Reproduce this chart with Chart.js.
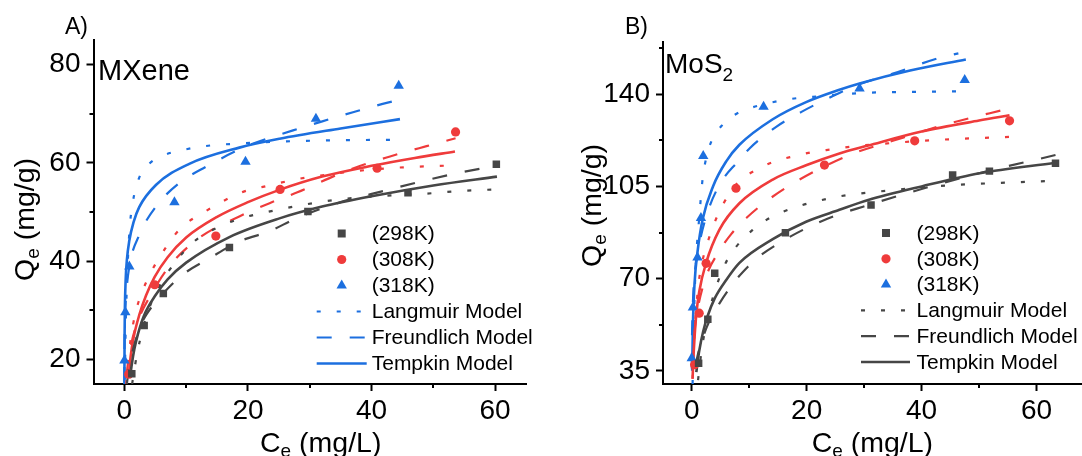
<!DOCTYPE html>
<html>
<head>
<meta charset="utf-8">
<script src="https://cdn.jsdelivr.net/npm/chart.js@4.4.1/dist/chart.umd.min.js"></script>
<style>
  body { margin: 0; width: 1082px; height: 456px; overflow: hidden; background: #fff; position: relative; }
  canvas { position: absolute; top: 0; }
  #chartA { left: 0; }
  #chartB { left: 540px; }
</style>
</head>
<body>
<canvas id="chartA" width="540" height="456"></canvas>
<canvas id="chartB" width="560" height="456"></canvas>
<script>
// ---- labels / ticks ----
const tempLabels = ["(298K)", "(308K)", "(318K)"];
const modelLabels = ["Langmuir Model", "Freundlich Model", "Tempkin Model"];
const xTickLabels = [0, 20, 40, 60];
const mxXTicks = [0, 10, 20, 30, 40, 50, 60];
const moXTicks = [0, 10, 20, 30, 40, 50, 60, 70];
const mxYTicks = [20, 30, 40, 50, 60, 70, 80];
const mxYTickLabels = [20, 40, 60, 80];
const moYTicks = [35, 52.5, 70, 87.5, 105, 122.5, 140, 157.5];
const moYTickLabels = [35, 70, 105, 140];

// ---- A) MXene : measured points [Ce, Qe] ----
const mx298 = [[1.2,17.1],[3.2,26.9],[6.3,33.4],[17.0,42.8],[29.7,50.1],[45.9,53.9],[60.2,59.7]];
const mx308 = [[0.7,17.0],[4.9,35.2],[14.8,45.1],[25.2,54.6],[40.9,58.9],[53.6,66.3]];
const mx318 = [[0.0,19.8],[0.15,29.6],[0.8,38.9],[8.1,52.0],[19.6,60.2],[31.0,69.0],[44.4,75.7]];

// model curves
const mx298Lang = [[1.25,15],[1.5,17],[2,20.8],[3,26.3],[4.1,30.7],[5.5,34.5],[7.3,38.2],[11,43.7],[15,46.8],[19.1,48.8],[22.4,49.8],[28.7,51.4],[35,52.6],[42,53.3],[48.4,53.7],[54.6,54.3],[60.2,54.6]];
const mx298Freu = [[0.4,15],[0.7,18],[1,20],[1.5,22.5],[2.5,26.5],[3.5,29],[5.7,32.6],[9.4,37.2],[13.8,40.6],[18.6,44],[23.5,46.1],[27.8,48.7],[35,52],[42,54.3],[48.3,56.3],[53.5,57.8],[60.2,59.4]];
const mx298Temp = [[0.9,16.2],[1.2,19],[1.6,22],[2.2,25.2],[3.2,29],[5,33],[7,36.3],[10,39.7],[17,44.9],[25.1,48.7],[32,51.1],[40,53.2],[50,55.4],[60.3,57.2]];

const mx308Lang = [[0.3,15],[0.6,19.5],[1,24],[1.8,29.5],[2.9,33.8],[4,37],[5.7,40.8],[8.9,46.4],[13.2,50.2],[19.2,54.1],[22.4,55.1],[28,56.7],[31,57.3],[38,58.4],[43.8,59],[53.6,59.5]];
const mx308Freu = [[0.3,16.3],[0.6,19.5],[1,22.5],[2,27.2],[4.5,33.6],[7.3,39],[12.2,44.8],[18.6,49.1],[23.5,51.8],[28,54],[36.2,58.5],[43,61.3],[48.9,63.4],[53.6,65]];
const mx308Temp = [[0.7,16.5],[1,20.5],[1.5,24.5],[2.4,29],[3.5,33],[4.9,36.8],[7,40.8],[10,44.8],[15,49],[20,52],[25.1,54.5],[32,57.2],[40,59.4],[47,61],[53.5,62.3]];

const mx318Lang = [[0.05,12],[0.1,18],[0.2,26],[0.4,35],[0.8,45.8],[1.3,51.5],[2.4,57],[4,59.8],[6.5,61.6],[9.4,62.6],[13,63.4],[18,63.9],[27,64.4],[35,64.6],[44.4,64.7]];
const mx318Freu = [[0.002,15.4],[0.01,19.8],[0.03,23.5],[0.1,28.2],[0.3,33.3],[0.8,38.9],[2.4,45.3],[5.1,51.1],[8.9,55.9],[13.2,59.2],[20,63.5],[27.3,66.6],[31.9,68.4],[37,70.3],[41.8,72],[44.4,72.8]];
const mx318Temp = [[0.005,14],[0.01,18],[0.03,24.5],[0.08,30.5],[0.2,36],[0.4,40.2],[0.8,44.2],[1.5,48],[2.4,51],[5.1,55.5],[10.5,59.8],[18.6,63.1],[25.1,64.9],[35,67],[44.6,68.9]];

// ---- B) MoS2 : measured points ----
const mo298 = [[1.2,37.9],[2.8,54.6],[4.0,72.0],[16.3,87.4],[31.2,97.9],[45.4,109.3],[51.8,110.8],[63.3,113.8]];
const mo308 = [[0.5,37.3],[1.3,56.9],[2.5,75.8],[7.7,104.3],[23.1,113.1],[38.8,122.3],[55.3,129.9]];
const mo318 = [[0.0,39.8],[0.2,59.0],[1.0,78.0],[1.6,93.0],[2.0,116.5],[12.5,135.2],[29.2,142.2],[47.5,145.4]];

const mo298Lang = [[1.1,31.5],[1.4,37.3],[1.9,45.3],[2.7,54.4],[3.7,63],[5.7,75],[7.7,82],[10.6,88.5],[13,92.3],[15.7,95.2],[19.1,97.8],[22.2,99.6],[25.4,101.1],[28.6,102.1],[35,103.6],[44.9,105.4],[53,106.3],[61.8,107]];
const mo298Freu = [[0.7,37],[1,40.5],[2,48],[3,53.5],[4.8,60.5],[7.7,69.5],[10,75],[11.2,77.5],[15,83.2],[19.9,89.1],[24.9,93.8],[29.8,97.3],[40,104],[50,110],[63.3,116.9]];
const mo298Temp = [[0.8,34.5],[1,38],[1.3,42.5],[2,50],[2.8,56],[4,62.5],[6,69.5],[8.3,76],[14.1,85],[19.9,91.6],[25.7,96.1],[30.7,99.8],[40,105],[50.1,110],[63.3,114]];

const mo308Lang = [[0.15,32],[0.2,34.5],[0.5,50],[0.8,59.4],[1.3,70],[2,78],[3.1,86],[4.5,94],[6.6,102.4],[8.3,107],[11.8,111.9],[14.7,114.7],[17.9,116.5],[21.4,118.2],[24.6,119.1],[27.8,120.1],[35,121.5],[42.3,122.6],[55.3,123.8]];
const mo308Freu = [[0.1,35.8],[0.2,41.4],[0.5,50.2],[1,58],[2.5,70.8],[4.8,80.5],[6.9,87],[9.5,93],[13.5,100.2],[17.9,106.5],[27.4,116.9],[35,122.3],[45,129],[55.3,134.6]];
const mo308Temp = [[0.15,32],[0.25,38],[0.5,48],[0.8,56.5],[1.3,65],[2.5,76],[4.8,88.5],[8.3,98.6],[14.1,107.6],[19.9,113],[25.7,117.5],[30.7,120.5],[40,125.8],[50,130],[55.3,132]];

const mo318Lang = [[0.15,30],[0.3,47],[0.5,64],[0.8,79],[1.3,93],[1.9,108],[2.6,116.5],[3.4,122],[5.4,128.5],[7.5,132.2],[10,134.6],[16.7,138],[22.8,139.3],[30,140.5],[40,140.9],[47.5,141.1]];
const mo318Freu = [[0.01,35.9],[0.02,40.3],[0.05,47.8],[0.1,53.4],[0.3,65.7],[0.6,73.7],[1,79.7],[2.5,93.5],[4.8,105.5],[8,114.4],[10.1,119.5],[14.7,127.6],[19.1,133.3],[23.7,138.4],[28.6,143.3],[35,147.8],[43.1,153.8],[46.4,155.5]];
const mo318Temp = [[0.08,35],[0.1,39],[0.2,52],[0.5,68.5],[1,80],[1.9,92.5],[3.7,105],[6,114.5],[8.3,120.8],[14.1,130.5],[19.9,137],[25.7,141.7],[29.2,144.1],[38,149],[47.7,153.2]];

// ---- styles ----
const FONT = "'Liberation Sans', Arial, sans-serif";
const GRAY = "#464646", RED = "#ef3b3b", BLUE = "#1c6fdf";
const tempColors = [GRAY, RED, BLUE];
const tempShapes = ["rect", "circle", "triangle"];
const tempRadius = [5.3, 4.6, 6];
const modelDash = [[4, 16], [15, 18], []];
const modelWidth = [2.2, 2.2, 2.6];

const xy = arr => arr.map(p => ({x: p[0], y: p[1]}));

function buildDatasets(points, models) {
  const sets = [];
  points.forEach((pts, i) => {
    models[i].forEach((curve, m) => {
      sets.push({
        data: xy(curve), showLine: true, pointRadius: 0,
        borderColor: tempColors[i], borderWidth: modelWidth[m], borderDash: modelDash[m],
        borderCapStyle: "butt", cubicInterpolationMode: "monotone", order: 2
      });
    });
    sets.push({
      data: xy(pts), showLine: false, pointStyle: tempShapes[i], pointRadius: tempRadius[i],
      backgroundColor: tempColors[i], borderColor: tempColors[i], borderWidth: 0, order: 1
    });
  });
  return sets;
}

// major ticks drawn by Chart.js, minor (unlabelled) ones hidden there and drawn shorter below
function buildScales(p) {
  const font = {family: FONT, size: 28};
  const grid = labels => ({
    drawOnChartArea: false, tickLength: 7, tickWidth: 2,
    tickColor: c => labels.includes(c.tick.value) ? "#000" : "rgba(0,0,0,0)"
  });
  return {
    x: {
      type: "linear", min: p.xMin, max: p.xMax,
      border: {color: "#000", width: 2}, grid: grid(xTickLabels),
      afterBuildTicks: s => { s.ticks = p.xTicks.map(v => ({value: v})); },
      ticks: {autoSkip: false, maxRotation: 0, padding: 3,
        color: "#000", font: font, callback: v => xTickLabels.includes(v) ? String(v) : ""},
      afterFit: s => { s.height = 456 - p.bottom; }
    },
    y: {
      type: "linear", min: p.yMin, max: p.yMax,
      border: {color: "#000", width: 2}, grid: grid(p.yLabels),
      afterBuildTicks: s => { s.ticks = p.yTicks.map(v => ({value: v})); },
      ticks: {autoSkip: false, padding: 6,
        color: "#000", font: font, callback: v => p.yLabels.includes(v) ? String(v) : ""},
      afterFit: s => { s.width = p.left; }
    }
  };
}

function drawParts(ctx, parts, x, y) {
  parts.forEach(pt => {
    ctx.font = pt[1] + "px " + FONT;
    ctx.fillText(pt[0], x, y + (pt[2] || 0));
    x += ctx.measureText(pt[0]).width;
  });
}

function marker(ctx, i, x, y) {
  ctx.fillStyle = tempColors[i];
  ctx.beginPath();
  if (i === 0) { ctx.rect(x - 4, y - 4, 8, 8); }
  else if (i === 1) { ctx.arc(x, y, 4.6, 0, Math.PI * 2); }
  else { ctx.moveTo(x, y - 6); ctx.lineTo(x + 5.2, y + 3); ctx.lineTo(x - 5.2, y + 3); ctx.closePath(); }
  ctx.fill();
}

function decor(d, p) {
  return {
    id: "decor",
    afterDraw(chart) {
      const ctx = chart.ctx;
      const area = chart.chartArea;
      ctx.save();
      // short minor ticks
      ctx.strokeStyle = "#000";
      ctx.lineWidth = 2;
      ctx.beginPath();
      p.xTicks.filter(v => !xTickLabels.includes(v)).forEach(v => {
        const x = Math.round(chart.scales.x.getPixelForValue(v));
        ctx.moveTo(x, area.bottom); ctx.lineTo(x, area.bottom + 4);
      });
      p.yTicks.filter(v => !p.yLabels.includes(v)).forEach(v => {
        const y = Math.round(chart.scales.y.getPixelForValue(v));
        ctx.moveTo(area.left, y); ctx.lineTo(area.left - 4, y);
      });
      ctx.stroke();

      ctx.fillStyle = "#000";
      ctx.textBaseline = "alphabetic";
      ctx.textAlign = "left";
      drawParts(ctx, [[d.tag, 23]], d.tagX, d.tagY);
      drawParts(ctx, d.name, d.nameX, d.nameY);
      drawParts(ctx, [["C", 28.5], ["e", 19, 5], [" (mg/L)", 28.5]], d.xTitleX, 452);
      ctx.save();
      ctx.translate(d.yTitleX, d.yTitleY);
      ctx.rotate(-Math.PI / 2);
      drawParts(ctx, [["Q", 28.5], ["e", 19, 5], [" (mg/g)", 28.5]], 0, 0);
      ctx.restore();
      // legend
      const L = d.legend;
      ctx.textBaseline = "middle";
      tempLabels.forEach((t, i) => {
        const y = L.y0 + i * L.dy;
        marker(ctx, i, L.mx, y);
        ctx.fillStyle = "#000";
        ctx.font = "21px " + FONT;
        ctx.fillText(t, L.tx, y + 1);
      });
      modelLabels.forEach((t, m) => {
        const y = L.y0 + (m + 3) * L.dy;
        ctx.strokeStyle = d.modelColor;
        ctx.lineWidth = modelWidth[m];
        ctx.setLineDash(modelDash[m]);
        ctx.beginPath(); ctx.moveTo(L.lx0, y); ctx.lineTo(L.lx1, y); ctx.stroke();
        ctx.setLineDash([]);
        ctx.fillStyle = "#000";
        ctx.font = "21px " + FONT;
        ctx.fillText(t, L.tx, y + 1);
      });
      ctx.restore();
    }
  };
}

function makeChart(id, points, models, p, d) {
  new Chart(document.getElementById(id), {
    type: "scatter",
    data: {datasets: buildDatasets(points, models)},
    options: {
      responsive: false, animation: false, devicePixelRatio: 1,
      layout: {padding: {left: 0, top: p.top, right: p.right, bottom: 0}},
      plugins: {legend: {display: false}, tooltip: {enabled: false}},
      scales: buildScales(p)
    },
    plugins: [decor(d, p)]
  });
}

makeChart("chartA", [mx298, mx308, mx318],
  [[mx298Lang, mx298Freu, mx298Temp], [mx308Lang, mx308Freu, mx308Temp], [mx318Lang, mx318Freu, mx318Temp]],
  {xMin: -5, xMax: 65, yMin: 15, yMax: 85, xTicks: mxXTicks, yTicks: mxYTicks, yLabels: mxYTickLabels,
   left: 93.5, top: 40, right: 14, bottom: 384},
  {tag: "A)", tagX: 65, tagY: 34, name: [["MXene", 29]], nameX: 98, nameY: 80, xTitleX: 260, yTitleX: 34, yTitleY: 281,
   modelColor: BLUE, legend: {mx: 341.7, tx: 371.7, lx0: 316.7, lx1: 366.7, y0: 233.5, dy: 26}});

makeChart("chartB", [mo298, mo308, mo318],
  [[mo298Lang, mo298Freu, mo298Temp], [mo308Lang, mo308Freu, mo308Temp], [mo318Lang, mo318Freu, mo318Temp]],
  {xMin: -5, xMax: 70, yMin: 30, yMax: 160, xTicks: moXTicks, yTicks: moYTicks, yLabels: moYTickLabels,
   left: 123, top: 41.5, right: 6, bottom: 384},
  {tag: "B)", tagX: 85, tagY: 33.5, name: [["MoS", 28], ["2", 19, 8]], nameX: 125, nameY: 73.3, xTitleX: 271.7, yTitleX: 61, yTitleY: 267,
   modelColor: GRAY, legend: {mx: 346, tx: 376.5, lx0: 321, lx1: 370, y0: 233, dy: 25.8}});
</script>
</body>
</html>
